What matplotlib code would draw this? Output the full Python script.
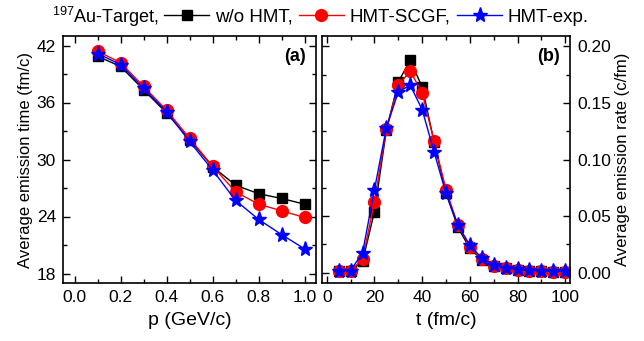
import numpy as np
import matplotlib.pyplot as plt
from matplotlib.lines import Line2D
from matplotlib.ticker import MultipleLocator

plt.rcParams['font.family'] = ['Liberation Sans', 'DejaVu Sans']
plt.rcParams['mathtext.fontset'] = 'custom'
plt.rcParams['mathtext.rm'] = 'Liberation Sans'
plt.rcParams['font.size'] = 12.5

# panel (a): average emission time vs momentum
p = [0.1, 0.2, 0.3, 0.4, 0.5, 0.6, 0.7, 0.8, 0.9, 1.0]
time_wo = [40.87, 39.8, 37.35, 34.9, 32.1, 29.25, 27.3, 26.4, 25.9, 25.3]
time_scgf = [41.4, 40.2, 37.7, 35.2, 32.25, 29.3, 26.6, 25.3, 24.6, 23.9]
time_exp = [41.15, 40.0, 37.5, 35.05, 31.9, 28.9, 25.7, 23.7, 22.1, 20.6]

# panel (b): emission rate vs time
t = [5, 10, 15, 20, 25, 30, 35, 40, 45, 50, 55, 60, 65, 70, 75, 80, 85, 90, 95, 100]
rate_wo = [0.002, 0.002, 0.010, 0.054, 0.126, 0.1685, 0.1876, 0.164, 0.1155, 0.0705,
           0.040, 0.0215, 0.0117, 0.0058, 0.0038, 0.0025, 0.002, 0.0015, 0.001, 0.001]
rate_scgf = [0.002, 0.002, 0.012, 0.0626, 0.127, 0.1656, 0.178, 0.159, 0.116, 0.0735,
             0.042, 0.023, 0.012, 0.006, 0.004, 0.0027, 0.002, 0.0015, 0.001, 0.001]
rate_exp = [0.002, 0.002, 0.0176, 0.0735, 0.128, 0.1597, 0.1656, 0.144, 0.1067, 0.070,
            0.042, 0.0244, 0.013, 0.0073, 0.0045, 0.003, 0.0022, 0.0017, 0.0012, 0.0012]

W, H = 644, 341
fig = plt.figure(figsize=(W / 100, H / 100), dpi=100)


def px_axes(x0, y0, x1, y1):
    return fig.add_axes([x0 / W, 1 - y1 / H, (x1 - x0) / W, (y1 - y0) / H])


ax1 = px_axes(63, 36, 316, 283)
ax2 = px_axes(322, 36, 570, 283)

styles = [
    dict(color='black', marker='s', ms=7.5, label='w/o HMT,'),
    dict(color='red', marker='o', ms=8.5, label='HMT-SCGF,'),
    dict(color='blue', marker='*', ms=11, label='HMT-exp.'),
]

for y, st in zip([time_wo, time_scgf, time_exp], styles):
    ax1.plot(p, y, lw=1.0, mec=st['color'], **st)
for y, st in zip([rate_wo, rate_scgf, rate_exp], styles):
    ax2.plot(t, y, lw=1.0, mec=st['color'], **st)

ax1.set_xlim(-0.05, 1.05)
ax1.set_ylim(17, 43)
ax1.xaxis.set_minor_locator(MultipleLocator(0.1))
ax1.yaxis.set_major_locator(MultipleLocator(6))
ax1.yaxis.set_minor_locator(MultipleLocator(3))
ax1.set_xticks(np.arange(0, 1.01, 0.2))
ax1.set_xticklabels(['0.0', '0.2', '0.4', '0.6', '0.8', '1.0'])
ax1.set_xlabel('p (GeV/c)', fontsize=14, labelpad=5)
ax1.set_ylabel('Average emission time (fm/c)', fontsize=12, labelpad=3)

ax2.set_xlim(-2, 102)
ax2.set_ylim(-0.009, 0.209)
ax2.xaxis.set_major_locator(MultipleLocator(20))
ax2.xaxis.set_minor_locator(MultipleLocator(10))
ax2.yaxis.set_major_locator(MultipleLocator(0.05))
ax2.yaxis.set_minor_locator(MultipleLocator(0.025))
ax2.yaxis.set_major_formatter(plt.FormatStrFormatter('%.2f'))
ax2.set_xlabel('t (fm/c)', fontsize=14, labelpad=5)
ax2.set_ylabel('Average emission rate (c/fm)', fontsize=12, labelpad=3)
ax2.yaxis.set_label_position('right')

for ax in (ax1, ax2):
    ax.tick_params(which='both', direction='in', top=True, bottom=True,
                   left=True, right=True, width=1.0)
    ax.tick_params(which='major', length=5, pad=5)
    ax.tick_params(which='minor', length=3)
    for s in ax.spines.values():
        s.set_linewidth(1.2)
ax2.tick_params(which='both', labelleft=False, labelright=True)

ax1.text(0.96, 0.95, '(a)', transform=ax1.transAxes, ha='right', va='top',
         fontweight='bold', fontsize=13)
ax2.text(0.96, 0.95, '(b)', transform=ax2.transAxes, ha='right', va='top',
         fontweight='bold', fontsize=13)

# legend across the top
fig.text(52 / W, 1 - 17 / H, r'$^{197}$Au-Target,', ha='left', va='center', fontsize=13)
handles = [Line2D([], [], lw=1.0, mec=st['color'], **st) for st in styles]
fig.legend(handles=handles, loc='center left', bbox_to_anchor=(164 / W, 1 - 17 / H),
           ncol=3, frameon=False, fontsize=13.5, handlelength=2.4, handletextpad=0.3,
           columnspacing=0.35, borderpad=0, borderaxespad=0)

fig.savefig('out.png', dpi=100)
